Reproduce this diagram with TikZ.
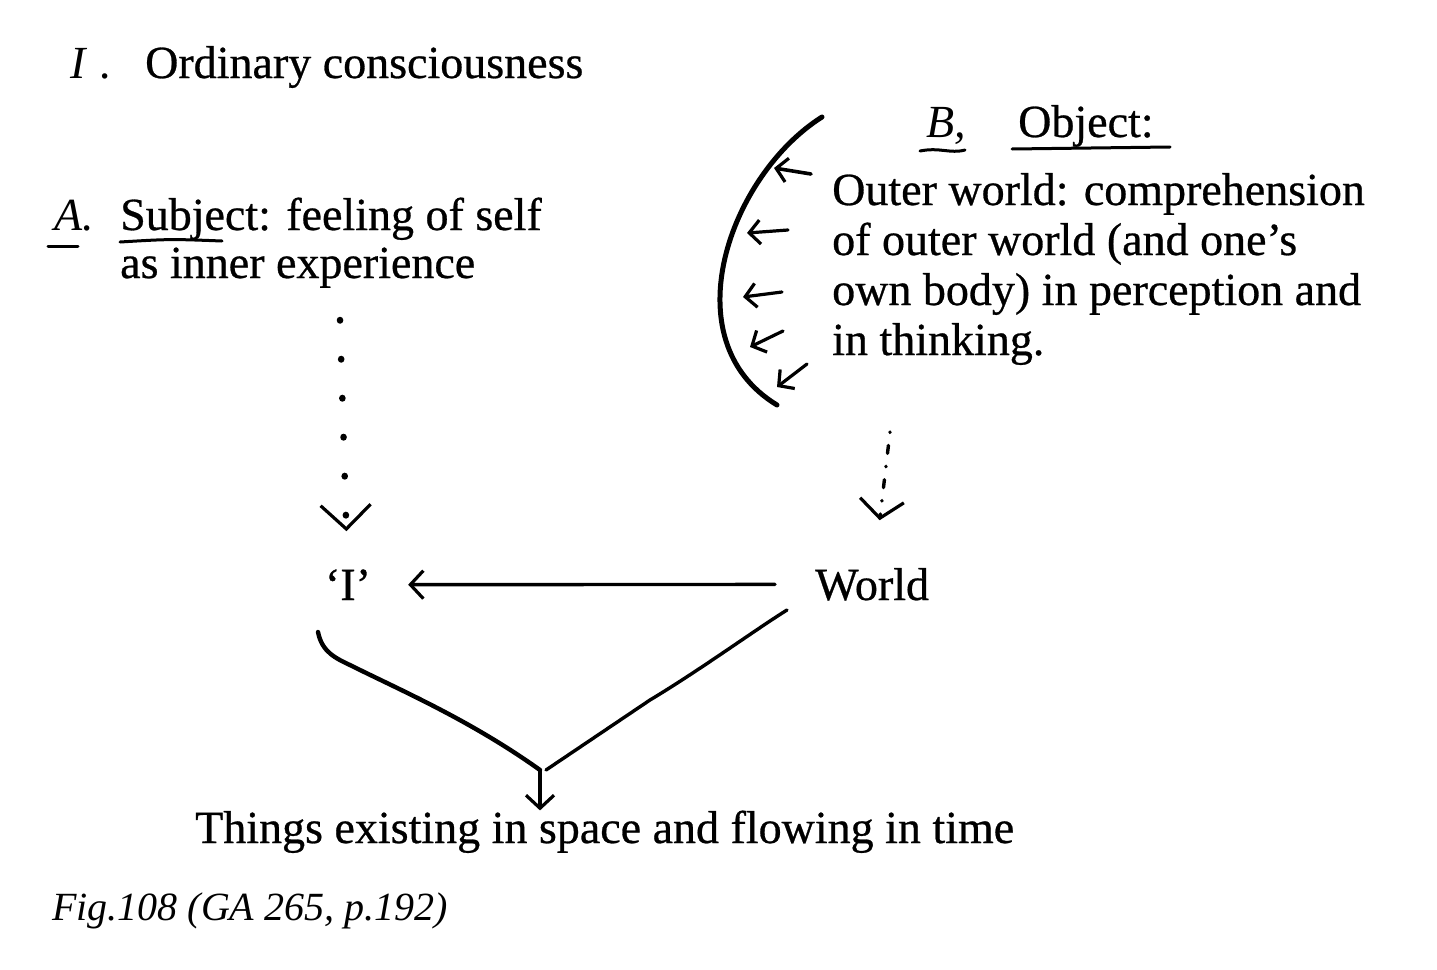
\documentclass[tikz,border=0pt]{standalone}
\usepackage{fontspec}
\setmainfont{Liberation Serif}
\usetikzlibrary{arrows.meta}
\begin{document}
\begin{tikzpicture}[x=1pt,y=-1pt,
  txt/.style={anchor=base west,inner sep=0pt,font=\fontsize{46}{50}\selectfont\addfontfeature{FakeBold=0.6}},
  hand/.style={anchor=base west,inner sep=0pt,font=\fontsize{46}{50}\selectfont\itshape},
  figtxt/.style={anchor=base west,inner sep=0pt,font=\fontsize{40}{46}\selectfont\itshape},
  pen/.style={line width=3.4pt,line cap=round,line join=round},
  uline/.style={line width=3pt,line cap=round},
  vhead/.style={-{Straight Barb[length=24pt,width=50pt,line width=3.2pt]}},
  smallhead/.style={line width=3.2pt,line cap=round,-{Straight Barb[length=11pt,width=24pt,line width=3.2pt]}},
  midhead/.style={-{Straight Barb[length=13pt,width=28pt,line width=3.2pt]}}]
\useasboundingbox[fill=white] (0,0) rectangle (1437,969);

% titles
\node[hand] (numI) at (70,78) {I\,\,.};
\node[txt] (title) at (145,78) {Ordinary consciousness};

% subject
\node[hand] (letA) at (54,230) {A.};
\node[txt] (subj1) at (120,230) {Subject: feeling of self};
\node[txt] (subj2) at (120,278) {as inner experience};
\draw[uline] (48,246) -- (78,246);
\draw[uline] (120,242) .. controls (170,239) .. (222,241);

% object
\node[hand] (letB) at (926,137) {B,};
\node[txt] (obj) at (1018,137) {Object:};
\draw[uline] (920,151) .. controls (940,147) and (950,154) .. (965,150);
\draw[uline] (1012,149) -- (1170,147);
\node[txt] (out1) at (832,205) {Outer world: comprehension};
\node[txt] (out2) at (832,255) {of outer world (and one’s};
\node[txt] (out3) at (832,305) {own body) in perception and};
\node[txt] (out4) at (832,355) {in thinking.};

% arc with small arrows
\draw[line width=5pt,line cap=round] (822,117) .. controls (730,175) and (670,340) .. (777,405);
\draw[smallhead,line width=3.6pt] (811,174) -- (774,168);
\draw[smallhead] (788,230) -- (747,233);
\draw[smallhead] (782,292) -- (743,297);
\draw[smallhead] (783,331) -- (750,347);
\draw[smallhead] (807,364) -- (777,387);

% middle nodes
\node[txt,anchor=base] (ego) at (348,600) {‘I’};
\node[txt] (world) at (815,600) {World};

% dotted descents
\coordinate (dA) at (340,320);
\coordinate (dB) at (890,432);
\draw[line width=6.5pt,line cap=round,dash pattern=on 0.5pt off 38.5pt,vhead,shorten >=38pt] (dA) -- (ego);
\draw[line width=3.4pt,line cap=round,dash pattern=on 0.5pt off 13pt on 8pt off 13pt,
  -{Straight Barb[length=18pt,width=44pt,line width=3.2pt]},shorten >=48pt] (dB) -- (world);

% horizontal arrow
\draw[pen,midhead,shorten <=40pt,shorten >=37pt] (world.west) -- (ego.east);

% convergence
\coordinate (egoL) at (318,632);
\coordinate (worldL) at (787,610);
\coordinate (meet) at (540,770);
\node[txt] (things) at (195,843) {Things existing in space and flowing in time};
\draw[pen,line width=4.4pt] (egoL) .. controls (322,652) and (335,658) .. (352,666)
  .. controls (400,690) and (470,720) .. (meet);
\draw[pen] (worldL) .. controls (755,630) and (700,670) .. (650,700) -- (546,770);
\draw[pen,midhead] (meet) -- (meet |- things.north);

\node[figtxt] (fig) at (52,920) {Fig.108 (GA 265, p.192)};
\end{tikzpicture}
\end{document}
